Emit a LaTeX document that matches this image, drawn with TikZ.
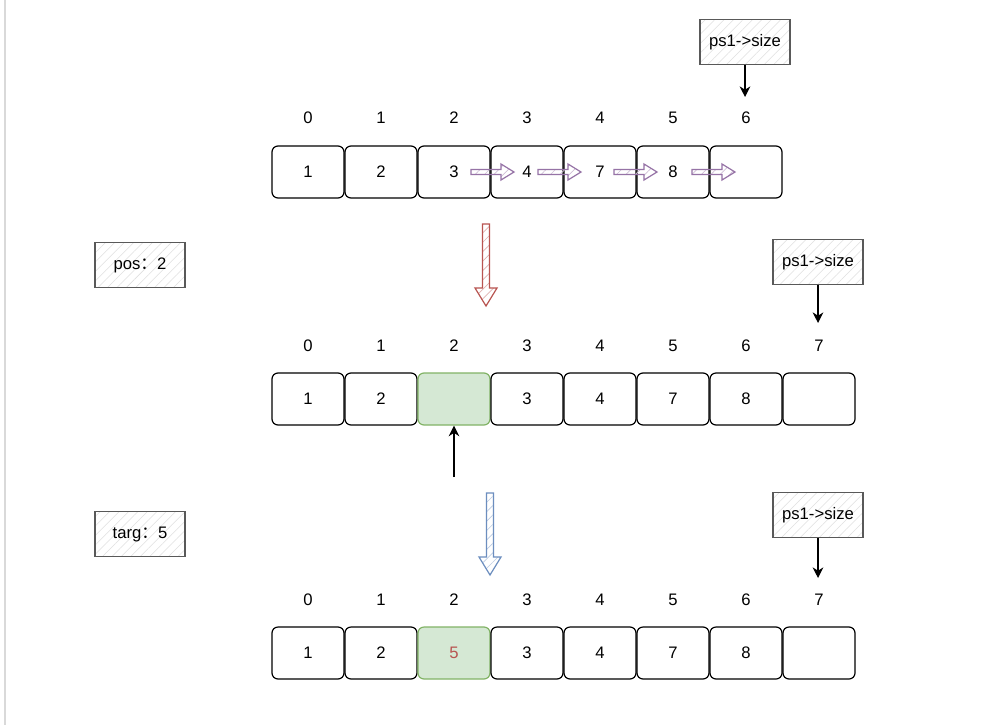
\documentclass[tikz,border=0pt]{standalone}
\usepackage{fontspec}
\setmainfont{Liberation Sans}
\newfontfamily\cjk{Noto Sans CJK SC}
\usetikzlibrary{arrows.meta,patterns.meta}
\definecolor{cellgreen}{HTML}{D5E8D4}
\definecolor{cellgreenline}{HTML}{82B366}
\definecolor{numred}{HTML}{B85450}
\definecolor{hollowred}{HTML}{B85450}
\definecolor{hollowblue}{HTML}{6C8EBF}
\definecolor{hollowpurple}{HTML}{9673A6}
\tikzset{
	cell/.style={draw, rounded corners=4.5pt, line width=0.9pt, minimum width=54pt, minimum height=39pt, inner sep=0pt},
	newcell/.style={cell, fill=cellgreen, draw=cellgreenline},
	idx/.style={inner sep=0pt},
	sketchbox/.style={draw=black!65, line width=1.3pt, preaction={fill=white}, pattern={Lines[angle=45,distance=5pt,line width=0.4pt]}, pattern color=black!12, minimum width=67.5pt, minimum height=33.75pt, inner sep=0pt},
	ptr/.style={-{Stealth[length=8pt,width=8pt]}, line width=0.9pt},
	hollow/.style={draw=#1, line width=0.9pt, preaction={fill=#1!12}, pattern={Lines[angle=45,distance=5pt,line width=0.5pt]}, pattern color=#1!45},
	pics/fatdown/.style={code={\draw[pic actions] (-3.5,0) -- (-3.5,64) -- (-11,64) -- (0,82) -- (11,64) -- (3.5,64) -- (3.5,0) -- cycle;}},
	pics/fatright/.style={code={\draw[pic actions] (0,-2.5) -- (30,-2.5) -- (30,-8) -- (43,0) -- (30,8) -- (30,2.5) -- (0,2.5) -- cycle;}},
}
\begin{document}
\begin{tikzpicture}[x=0.75pt, y=-0.75pt, font=\fontsize{12.5}{15}\selectfont]
		\useasboundingbox (0,0) rectangle (981,725);
		\fill[white] (0,0) rectangle (981,725);
		\draw[black!15, line width=1pt] (5,0) -- (5,725);

		\foreach \i in {0,...,6} \node[idx] (ia\i) at ({308+73*\i},118) {\i};
		\foreach \v [count=\i from 0] in {1,2,3,4,7,8,{}} \node[cell] (a\i) at ({308+73*\i},172) {\v};

		\foreach \i in {0,...,7} \node[idx] (ib\i) at ({308+73*\i},346) {\i};
		\foreach \v/\s [count=\i from 0] in {1/cell,2/cell,{}/newcell,3/cell,4/cell,7/cell,8/cell,{}/cell} \node[\s] (b\i) at ({308+73*\i},399) {\v};

		\foreach \i in {0,...,7} \node[idx] (ic\i) at ({308+73*\i},600) {\i};
		\foreach \v/\s [count=\i from 0] in {1/cell,2/cell,{\color{numred}5}/newcell,3/cell,4/cell,7/cell,8/cell,{}/cell} \node[\s] (c\i) at ({308+73*\i},653) {\v};

		\node[sketchbox] (sz1) at (745,42) {ps1->size};
		\node[sketchbox] (sz2) at (818,262) {ps1->size};
		\node[sketchbox] (sz3) at (818,515) {ps1->size};
		\node[sketchbox] (pos) at (140,265) {pos{\cjk ：}2};
		\node[sketchbox] (targ) at (140,534) {targ{\cjk ：}5};

		\coordinate (e1) at (745,97);
		\coordinate (e2) at (818,323);
		\coordinate (e3) at (818,578);
		\coordinate (p0) at (454,477);
		\draw[ptr] (sz1.south) -- (e1);
		\draw[ptr] (sz2.south) -- (e2);
		\draw[ptr] (sz3.south) -- (e3);
		\draw[ptr] (p0) -- (b2.south);

		\foreach \x in {471,538,614,692} \pic[hollow=hollowpurple] at (\x,172) {fatright};
		\pic[hollow=hollowred] at (486,224) {fatdown};
		\pic[hollow=hollowblue] at (490,493) {fatdown};

	\end{tikzpicture}
\end{document}
